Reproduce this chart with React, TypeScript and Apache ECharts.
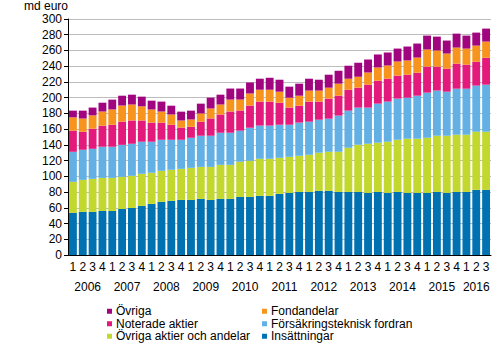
import React, { useEffect, useRef } from 'react';
import * as echarts from 'echarts';

const categories = [
  '2006Q1', '2006Q2', '2006Q3', '2006Q4',
  '2007Q1', '2007Q2', '2007Q3', '2007Q4',
  '2008Q1', '2008Q2', '2008Q3', '2008Q4',
  '2009Q1', '2009Q2', '2009Q3', '2009Q4',
  '2010Q1', '2010Q2', '2010Q3', '2010Q4',
  '2011Q1', '2011Q2', '2011Q3', '2011Q4',
  '2012Q1', '2012Q2', '2012Q3', '2012Q4',
  '2013Q1', '2013Q2', '2013Q3', '2013Q4',
  '2014Q1', '2014Q2', '2014Q3', '2014Q4',
  '2015Q1', '2015Q2', '2015Q3', '2015Q4',
  '2016Q1', '2016Q2', '2016Q3',
];

const years = ['2006', '2007', '2008', '2009', '2010', '2011', '2012', '2013', '2014', '2015', '2016'];

const insattningar = [
  53.5, 54.8, 54.8, 56.0, 56.0, 58.6, 59.8, 62.4, 65.0, 67.5, 68.8, 70.0, 70.0, 71.3, 70.0, 71.3,
  71.3, 73.8, 73.8, 75.2, 75.2, 77.7, 79.0, 80.2, 80.2, 81.5, 81.5, 80.2, 80.2, 80.2, 79.0, 80.2,
  79.0, 80.2, 79.0, 79.0, 79.0, 80.2, 79.0, 80.2, 80.2, 82.8, 82.8,
];
const ovrigaAktier = [
  39.5, 40.7, 42.0, 42.0, 42.0, 40.8, 40.8, 40.8, 39.5, 39.5, 39.5, 39.5, 40.8, 40.7, 42.0, 43.3,
  43.3, 44.7, 46.0, 47.1, 47.1, 45.8, 45.8, 45.9, 47.2, 48.5, 49.7, 51.0, 56.1, 59.9, 62.4, 62.5,
  65.0, 66.3, 68.8, 68.8, 70.0, 71.4, 72.6, 72.7, 72.7, 73.9, 73.9,
];
const forsakring = [
  38.2, 38.3, 38.2, 39.6, 39.6, 40.6, 40.8, 40.8, 39.5, 39.5, 38.2, 37.0, 38.2, 39.6, 39.6, 40.8,
  40.8, 39.5, 42.0, 42.2, 42.2, 42.1, 40.8, 42.2, 42.1, 42.0, 42.1, 46.0, 47.2, 47.3, 46.0, 49.7,
  51.0, 52.3, 52.2, 54.7, 57.4, 57.4, 56.0, 58.5, 58.5, 58.6, 59.8,
];
const noterade = [
  26.8, 22.9, 25.5, 26.7, 28.0, 29.5, 29.6, 27.0, 24.3, 21.8, 19.1, 15.5, 14.0, 17.9, 22.0, 23.2,
  27.0, 25.7, 28.2, 30.5, 30.5, 28.0, 21.8, 21.5, 25.5, 23.0, 25.5, 25.3, 26.6, 25.3, 29.1, 29.2,
  29.1, 29.2, 29.2, 29.3, 33.0, 30.4, 29.2, 31.8, 30.5, 30.4, 34.2,
];
const fondandelar = [
  17.0, 16.8, 17.0, 18.1, 19.4, 20.5, 20.3, 18.0, 16.7, 14.1, 13.0, 9.0, 9.3, 10.5, 12.7, 12.7,
  15.2, 13.9, 15.3, 15.1, 15.1, 14.0, 12.6, 12.7, 14.0, 14.0, 13.9, 15.3, 14.0, 13.9, 15.5, 16.8,
  16.8, 18.0, 18.1, 19.2, 21.8, 20.6, 19.3, 20.5, 20.5, 20.5, 20.6,
];
const ovriga = [
  8.5, 10.0, 9.9, 11.2, 12.5, 12.5, 12.5, 12.3, 11.2, 12.6, 11.2, 11.2, 11.2, 12.4, 13.7, 12.5,
  14.0, 14.0, 14.0, 14.0, 15.2, 15.2, 14.0, 15.3, 15.1, 13.8, 16.5, 16.4, 16.5, 17.8, 16.5, 16.5,
  16.5, 16.4, 17.7, 17.8, 17.7, 17.6, 16.5, 17.7, 16.5, 16.5, 16.5,
];

const FONT = 'Arial, "Liberation Sans", sans-serif';

export default function App() {
  const ref = useRef<HTMLDivElement>(null);

  useEffect(() => {
    if (!ref.current) return;
    const chart = echarts.init(ref.current, null, { renderer: 'svg' });

    const yearCenters = years.map((y) => {
      const idx = categories.map((c, i) => (c.startsWith(y) ? i : -1)).filter((i) => i >= 0);
      return { year: y, pos: (idx[0] + idx[idx.length - 1] + 1) / 2 };
    });

    const seriesDefs = [
      { name: 'Insättningar', data: insattningar, color: '#0072B1' },
      { name: 'Övriga aktier och andelar', data: ovrigaAktier, color: '#C2D82E' },
      { name: 'Försäkringsteknisk fordran', data: forsakring, color: '#63B1E4' },
      { name: 'Noterade aktier', data: noterade, color: '#E3197B' },
      { name: 'Fondandelar', data: fondandelar, color: '#F7941E' },
      { name: 'Övriga', data: ovriga, color: '#A1047F' },
    ];

    const legendCommon = {
      orient: 'vertical',
      itemWidth: 5,
      itemHeight: 5,
      itemGap: 0,
      padding: 0,
      height: 45,
      icon: 'rect',
      selectedMode: false,
      textStyle: { fontFamily: FONT, fontSize: 12, color: '#000', lineHeight: 12.5, padding: [0, 0, 0, -1] },
    };

    chart.setOption({
      animation: false,
      backgroundColor: '#fff',
      textStyle: { fontFamily: FONT },
      title: {
        text: 'md euro',
        left: 24,
        top: 0,
        padding: 0,
        textStyle: { fontFamily: FONT, fontSize: 12, lineHeight: 12, fontWeight: 'normal', color: '#000' },
      },
      legend: [
        { ...legendCommon, left: 107, top: 305, data: ['Övriga', 'Noterade aktier', 'Övriga aktier och andelar'] },
        { ...legendCommon, left: 262, top: 305, data: ['Fondandelar', 'Försäkringsteknisk fordran', 'Insättningar'] },
      ],
      grid: { left: 68, right: 9, top: 19, bottom: 95, containLabel: false },
      xAxis: [
        {
          type: 'category',
          data: categories,
          axisLine: { lineStyle: { color: '#000', width: 1 } },
          axisTick: { show: false },
          axisLabel: {
            interval: 0,
            margin: 6,
            fontFamily: FONT,
            fontSize: 12,
            color: '#000',
            formatter: (v: string) => v.slice(-1),
          },
        },
        {
          type: 'value',
          position: 'bottom',
          min: 0,
          max: categories.length,
          interval: 0.5,
          axisLine: { show: false },
          axisTick: { show: false },
          splitLine: { show: false },
          axisLabel: {
            margin: 26,
            fontFamily: FONT,
            fontSize: 12,
            color: '#000',
            showMinLabel: true,
            showMaxLabel: true,
            formatter: (v: number) => {
              const f = yearCenters.find((c) => Math.abs(c.pos - v) < 0.01);
              return f ? f.year : '';
            },
          },
        },
      ],
      yAxis: {
        type: 'value',
        min: 0,
        max: 300,
        interval: 20,
        axisLine: { show: true, lineStyle: { color: '#000', width: 1 } },
        axisTick: { show: true, length: 4, lineStyle: { color: '#000' } },
        axisLabel: { margin: 6, fontFamily: FONT, fontSize: 12, lineHeight: 12, color: '#000' },
        splitLine: { show: true, lineStyle: { color: '#BDBDBD', width: 1 } },
      },
      series: seriesDefs.map((s) => ({
        name: s.name,
        type: 'bar',
        stack: 'total',
        xAxisIndex: 0,
        data: s.data,
        barCategoryGap: '20%',
        itemStyle: { color: s.color },
      })),
    });

    return () => chart.dispose();
  }, []);

  return (
    <div
      ref={ref}
      style={{ position: 'fixed', left: 0, top: 0, width: 500, height: 350, background: '#fff' }}
    />
  );
}
